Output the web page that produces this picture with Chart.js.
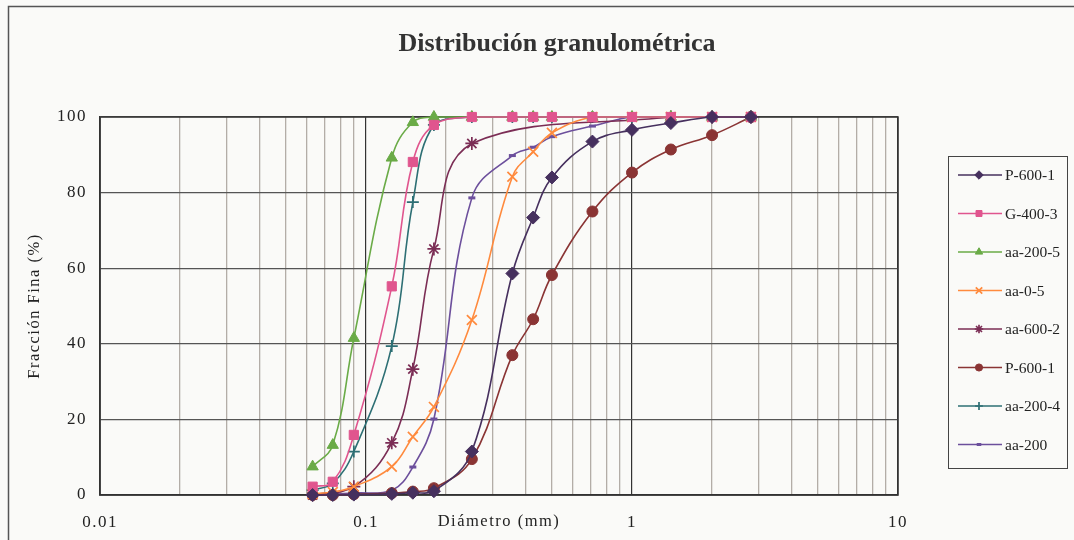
<!DOCTYPE html>
<html>
<head>
<meta charset="utf-8">
<script src="https://cdn.jsdelivr.net/npm/chart.js@4.4.1/dist/chart.umd.min.js"></script>
<style>
html, body { margin: 0; padding: 0; background: #fafaf8; }
#wrap { position: relative; width: 1074px; height: 540px; }
</style>
</head>
<body>
<div id="wrap"><canvas id="chart" width="1074" height="540"></canvas></div>
<script>
// sieve openings (mm) and fraction passing (%)
const sieveSizes = [0.063, 0.075, 0.09, 0.125, 0.15, 0.18, 0.25, 0.355, 0.425, 0.5, 0.71, 1, 1.4, 2, 2.8];
const aa6002Sizes = [0.063, 0.09, 0.125, 0.15, 0.18, 0.25, 1.4, 2, 2.8];

const p6001Diamond = [0, 0, 0.1, 0.3, 0.6, 1.0, 11.5, 58.6, 73.4, 84.0, 93.5, 96.6, 98.4, 100, 100];
const g4003 = [2.2, 3.5, 15.9, 55.2, 88.1, 97.9, 100, 100, 100, 100, 100, 100, 100, 100, 100];
const aa2005 = [7.5, 13.2, 41.5, 89.2, 98.6, 100, 100, 100, 100, 100, 100, 100, 100, 100, 100];
const aa05 = [0.3, 0.8, 2.2, 7.5, 15.4, 23.3, 46.3, 84.2, 90.8, 95.8, 100, 100, 100, 100, 100];
const aa6002 = [0, 2.2, 13.8, 33.3, 65.1, 93.0, 100, 100, 100];
const p6001Circle = [0, 0, 0.2, 0.5, 0.9, 1.8, 9.5, 37.0, 46.5, 58.2, 75.0, 85.3, 91.4, 95.2, 100];
const aa2004 = [1.3, 3.1, 11.5, 39.4, 77.5, 97.9, 100, 100, 100, 100, 100, 100, 100, 100, 100];
const aa200 = [0, 0.2, 0.5, 1.2, 7.4, 20.1, 78.6, 89.8, 92.0, 94.8, 97.6, 100, 100, 100, 100];

const seriesNames = ['P-600-1', 'G-400-3', 'aa-200-5', 'aa-0-5', 'aa-600-2', 'P-600-1', 'aa-200-4', 'aa-200'];
const xTickLabels = ['0.01', '0.1', '1', '10'];
const yTickLabels = [0, 20, 40, 60, 80, 100];

const xMajors = xTickLabels.map(Number);
const xTickValues = [];
xMajors.forEach((p, i) => {
    for (let m = 1; m <= 9; m++) {
        if (i === xMajors.length - 1 && m > 1) break;
        xTickValues.push(m === 1 ? p : m * p);
    }
});

const serif = "'Liberation Serif', 'Times New Roman', serif";

function pts(xs, ys) {
    return xs.map((x, i) => ({ x: x, y: ys[i] }));
}

function series(label, xs, ys, color, style, radius, bw) {
    return {
        label: label,
        data: pts(xs, ys),
        borderColor: color,
        backgroundColor: color,
        borderWidth: 1.6,
        tension: 0.4,
        pointStyle: style,
        pointRadius: radius,
        pointBorderWidth: bw,
        pointBackgroundColor: color,
        pointBorderColor: color,
        clip: 10
    };
}

const datasets = [
    series(seriesNames[0], sieveSizes, p6001Diamond, '#46305e', 'rectRot', 6.5, 1),
    series(seriesNames[1], sieveSizes, g4003, '#e0558e', 'rect', 6.5, 1),
    series(seriesNames[2], sieveSizes, aa2005, '#6aab47', 'triangle', 6.5, 1),
    series(seriesNames[3], sieveSizes, aa05, '#ff8a3d', 'crossRot', 7, 1.7),
    series(seriesNames[4], aa6002Sizes, aa6002, '#7b2d55', 'star', 6.5, 1.7),
    series(seriesNames[5], sieveSizes, p6001Circle, '#8a3434', 'circle', 5.5, 1),
    series(seriesNames[6], sieveSizes, aa2004, '#2d6f74', 'cross', 6, 1.7),
    series(seriesNames[7], sieveSizes, aa200, '#6c4f9c', 'line', 3.5, 3)
];

// background, frame, title and boxed legend
const decor = {
    id: 'decor',
    beforeDraw(chart) {
        const ctx = chart.ctx;
        ctx.save();
        ctx.fillStyle = '#fafaf8';
        ctx.fillRect(0, 0, chart.width, chart.height);
        ctx.strokeStyle = '#555';
        ctx.lineWidth = 1.5;
        ctx.beginPath();
        ctx.moveTo(8.5, chart.height + 2);
        ctx.lineTo(8.5, 6.5);
        ctx.lineTo(chart.width + 2, 6.5);
        ctx.stroke();
        ctx.restore();
        // Excel-like spaced lettering for axis text
        ctx.letterSpacing = '1.5px';
    },
    beforeDatasetsDraw(chart) {
        const a = chart.chartArea;
        const ctx = chart.ctx;
        ctx.save();
        ctx.strokeStyle = '#333';
        ctx.lineWidth = 1.5;
        ctx.strokeRect(a.left, a.top, a.right - a.left, a.bottom - a.top);
        ctx.restore();
    },
    afterDraw(chart) {
        const ctx = chart.ctx;
        ctx.save();
        ctx.letterSpacing = '0px';
        ctx.fillStyle = '#333';
        ctx.font = 'bold 26px ' + serif;
        ctx.textAlign = 'center';
        ctx.textBaseline = 'alphabetic';
        ctx.fillText('Distribución granulométrica', 557, 51);

        ctx.strokeStyle = '#444';
        ctx.lineWidth = 1;
        ctx.strokeRect(948.5, 156.5, 119, 312);
        chart.data.datasets.forEach((ds, i) => {
            const y = 175 + i * 38.5;
            ctx.strokeStyle = ds.borderColor;
            ctx.lineWidth = 1.6;
            ctx.beginPath();
            ctx.moveTo(958, y);
            ctx.lineTo(1002, y);
            ctx.stroke();
            ctx.fillStyle = ds.pointBackgroundColor;
            ctx.strokeStyle = ds.pointBorderColor;
            ctx.lineWidth = ds.pointBorderWidth;
            Chart.helpers.drawPoint(ctx, {
                pointStyle: ds.pointStyle,
                radius: ds.pointRadius * 0.65,
                rotation: 0,
                borderWidth: ds.pointBorderWidth
            }, 979, y);
            ctx.fillStyle = '#222';
            ctx.font = '15.5px ' + serif;
            ctx.textAlign = 'left';
            ctx.textBaseline = 'middle';
            ctx.fillText(ds.label, 1005, y + 1);
        });
        ctx.restore();
    }
};

new Chart(document.getElementById('chart'), {
    type: 'line',
    data: { datasets: datasets },
    plugins: [decor],
    options: {
        responsive: false,
        animation: false,
        layout: { padding: { left: 0, top: 117, right: 176, bottom: 0 } },
        plugins: {
            legend: { display: false },
            title: { display: false },
            tooltip: { enabled: false }
        },
        scales: {
            x: {
                type: 'logarithmic',
                min: 0.01,
                max: 10,
                afterBuildTicks: s => { s.ticks = xTickValues.map(v => ({ value: v })); },
                afterFit: s => { s.height = 45; },
                grid: {
                    drawTicks: false,
                    color: c => (c.tick && xMajors.includes(c.tick.value)) ? '#333' : '#b3ada7',
                    lineWidth: c => (c.tick && xMajors.includes(c.tick.value)) ? 1.2 : 1.3
                },
                border: { color: '#333', width: 1.5 },
                ticks: {
                    autoSkip: false,
                    maxRotation: 0,
                    padding: 17,
                    color: '#222',
                    font: { family: serif, size: 17 },
                    callback: v => {
                        const i = xMajors.indexOf(v);
                        return i >= 0 ? xTickLabels[i] : '';
                    }
                },
                title: {
                    display: true,
                    text: 'Diámetro (mm)',
                    color: '#222',
                    font: { family: serif, size: 16.5 },
                    padding: { top: 0, bottom: 8 }
                }
            },
            y: {
                min: 0,
                max: 100,
                afterBuildTicks: s => { s.ticks = yTickLabels.map(v => ({ value: v })); },
                afterFit: s => { s.width = 100; },
                grid: { drawTicks: false, color: '#555', lineWidth: 1.2 },
                border: { color: '#333', width: 1.5 },
                ticks: {
                    padding: 13,
                    color: '#222',
                    font: { family: serif, size: 17 }
                },
                title: {
                    display: true,
                    text: 'Fracción Fina (%)',
                    color: '#222',
                    font: { family: serif, size: 16.5 },
                    padding: { top: 25, bottom: 0 }
                }
            }
        }
    }
});
</script>
</body>
</html>
